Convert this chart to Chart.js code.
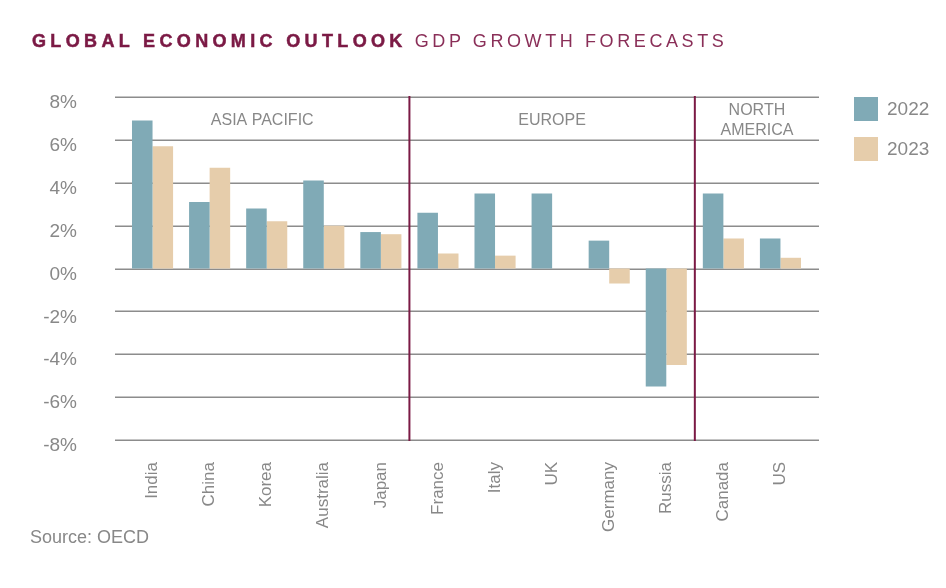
<!DOCTYPE html>
<html>
<head>
<meta charset="utf-8">
<script src="https://cdn.jsdelivr.net/npm/chart.js@4/dist/chart.umd.min.js"></script>
<style>
  body { margin: 0; background: #fff; }
  #wrap { position: relative; width: 946px; height: 588px; }
  #title {
    position: absolute; left: 32px; top: 31px;
    font-family: "Liberation Sans", Arial, sans-serif; font-size: 18px;
    color: #7b1a45; white-space: nowrap;
  }
  #title b { letter-spacing: 4.35px; font-weight: 700; -webkit-text-stroke: 0.5px #7b1a45; }
  #title span { letter-spacing: 3.6px; font-weight: 400; color: #8a2f58; margin-left: 3px; }
  #source {
    position: absolute; left: 30px; top: 527px;
    font-family: "Liberation Sans", Arial, sans-serif;
    font-size: 18px; color: #888;
  }
</style>
</head>
<body>
<div id="wrap">
  <canvas id="myChart" width="946" height="588"></canvas>
  <div id="title"><b>GLOBAL ECONOMIC OUTLOOK</b> <span>GDP GROWTH FORECASTS</span></div>
  <div id="source">Source: OECD</div>
</div>
<script>
// chart data
const countries = ['India', 'China', 'Korea', 'Australia', 'Japan', 'France', 'Italy', 'UK', 'Germany', 'Russia', 'Canada', 'US'];
const growth2022 = [6.9, 3.1, 2.8, 4.1, 1.7, 2.6, 3.5, 3.5, 1.3, -5.5, 3.5, 1.4];
const growth2023 = [5.7, 4.7, 2.2, 2.0, 1.6, 0.7, 0.6, 0.0, -0.7, -4.5, 1.4, 0.5];
const regions = [['ASIA PACIFIC'], ['EUROPE'], ['NORTH', 'AMERICA']];
const regionSizes = [5, 5, 2];
const yTicks = [-8, -6, -4, -2, 0, 2, 4, 6, 8];

const FONT = '"Liberation Sans", Arial, sans-serif';
const MAROON = '#7b1a45';
const TEXT = '#888';

// horizontal grid lines, a bit wider than the bar area
const gridPlugin = {
  id: 'grid',
  beforeDatasetsDraw(chart) {
    const { ctx, chartArea, scales } = chart;
    ctx.save();
    ctx.strokeStyle = '#8c8c8c';
    ctx.lineWidth = 1.5;
    yTicks.forEach(v => {
      const y = Math.round(scales.y.getPixelForValue(v)) + 0.25;
      ctx.beginPath();
      ctx.moveTo(chartArea.left - 9, y);
      ctx.lineTo(chartArea.right + 10, y);
      ctx.stroke();
    });
    ctx.restore();
  }
};

// region separators, region names and the legend
const regionPlugin = {
  id: 'regions',
  afterDatasetsDraw(chart) {
    const { ctx, chartArea, scales } = chart;
    const x = scales.x;
    const top = scales.y.getPixelForValue(8);
    const bottom = scales.y.getPixelForValue(-8);
    let edges = [chartArea.left - 9];
    let idx = 0;
    regionSizes.forEach((n, i) => {
      idx += n;
      if (i < regionSizes.length - 1) {
        edges.push((x.getPixelForValue(idx - 1) + x.getPixelForValue(idx)) / 2);
      }
    });
    edges.push(chartArea.right + 10);

    ctx.save();
    ctx.strokeStyle = MAROON;
    ctx.lineWidth = 2;
    edges.slice(1, -1).forEach(ex => {
      ctx.beginPath();
      ctx.moveTo(ex, top - 1);
      ctx.lineTo(ex, bottom + 1);
      ctx.stroke();
    });

    ctx.fillStyle = TEXT;
    ctx.font = '16px ' + FONT;
    ctx.textAlign = 'center';
    ctx.textBaseline = 'middle';
    regions.forEach((lines, i) => {
      const cx = (edges[i] + edges[i + 1]) / 2;
      const y0 = 121 - (lines.length - 1) * 10;
      lines.forEach((t, j) => ctx.fillText(t, cx, y0 + j * 20));
    });

    // legend
    ctx.textAlign = 'left';
    ctx.font = '19px ' + FONT;
    chart.data.datasets.forEach((ds, i) => {
      const y = 97 + i * 40;
      ctx.fillStyle = ds.backgroundColor;
      ctx.fillRect(854, y, 24, 24);
      ctx.fillStyle = TEXT;
      ctx.fillText(ds.label, 887, y + 13);
    });
    ctx.restore();
  }
};

const myChartRef = document.getElementById('myChart').getContext('2d');
new Chart(myChartRef, {
  type: 'bar',
  data: {
    labels: countries,
    datasets: [
      { label: '2022', data: growth2022, backgroundColor: '#80aab6' },
      { label: '2023', data: growth2023, backgroundColor: '#e6cdab' }
    ]
  },
  options: {
    responsive: false,
    animation: false,
    layout: { padding: { top: 97, right: 137, left: 0, bottom: 0 } },
    datasets: { bar: { categoryPercentage: 0.72, barPercentage: 1.0 } },
    plugins: { legend: { display: false }, tooltip: { enabled: false } },
    scales: {
      x: {
        grid: { display: false, drawTicks: false },
        border: { display: false },
        afterFit: s => { s.height = 148; },
        ticks: {
          minRotation: 90, maxRotation: 90, padding: 22,
          color: TEXT, font: { family: FONT, size: 17 }
        }
      },
      y: {
        min: -8, max: 8,
        grid: { display: false, drawTicks: false },
        border: { display: false },
        afterFit: s => { s.width = 124; },
        ticks: {
          stepSize: 2, padding: 47, labelOffset: 6,
          color: TEXT, font: { family: FONT, size: 19 },
          callback: v => v + '%'
        }
      }
    }
  },
  plugins: [gridPlugin, regionPlugin]
});
</script>
</body>
</html>
